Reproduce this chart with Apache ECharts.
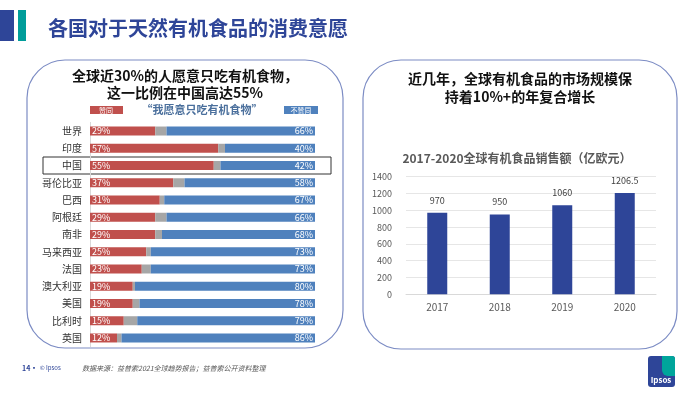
<!DOCTYPE html>
<html><head><meta charset="utf-8">
<script src="https://cdn.jsdelivr.net/npm/echarts@6/dist/echarts.min.js"></script>
<style>html,body{margin:0;padding:0;background:#fff}#c{width:700px;height:394px}</style>
</head><body><div id="c"></div>
<script>
const countries = ['世界','印度','中国','哥伦比亚','巴西','阿根廷','南非','马来西亚','法国','澳大利亚','美国','比利时','英国'];
const agree =    [29,57,55,37,31,29,29,25,23,19,19,15,12];
const neutral =  [5,3,3,5,2,5,3,2,4,1,3,6,2];
const disagree = [66,40,42,58,67,66,68,73,73,80,78,79,86];
const years = ['2017','2018','2019','2020'];
const sales = [970,950,1060,1206.5];
const salesTicks = [0,200,400,600,800,1000,1200,1400];

const F = '"Noto Sans CJK SC", "Noto Sans", sans-serif';
const chart = echarts.init(document.getElementById('c'));
const pct = p => p.value + '%';
chart.setOption({
  animation:false,
  textStyle:{fontFamily:F},
  graphic:[
    {type:'rect',shape:{x:0,y:10,width:14,height:31},style:{fill:'#2e4598'}},
    {type:'rect',shape:{x:18,y:10,width:8,height:31},style:{fill:'#009d9a'}},
    {type:'text',x:48,y:28,style:{text:'各国对于天然有机食品的消费意愿',fill:'#2e4598',font:'bold 20px '+F,textVerticalAlign:'middle'}},
    {type:'rect',shape:{x:27,y:60,width:316,height:288,r:38},style:{fill:'none',stroke:'#7c8cc4',lineWidth:1.2}},
    {type:'rect',shape:{x:363,y:60,width:314,height:289,r:38},style:{fill:'none',stroke:'#7c8cc4',lineWidth:1.2}},
    {type:'text',x:185,y:76,style:{text:'全球近30%的人愿意只吃有机食物，',fill:'#111',font:'bold 14px '+F,textAlign:'center',textVerticalAlign:'middle'}},
    {type:'text',x:185,y:93,style:{text:'这一比例在中国高达55%',fill:'#111',font:'bold 14px '+F,textAlign:'center',textVerticalAlign:'middle'}},
    {type:'rect',shape:{x:90,y:106,width:33,height:8},style:{fill:'#c0504d'}},
    {type:'text',x:106,y:110,style:{text:'赞同',fill:'#fff',font:'7px '+F,textAlign:'center',textVerticalAlign:'middle'}},
    {type:'rect',shape:{x:284,y:106,width:34,height:8},style:{fill:'#4f81bd'}},
    {type:'text',x:301,y:110,style:{text:'不赞同',fill:'#fff',font:'7px '+F,textAlign:'center',textVerticalAlign:'middle'}},
    {type:'text',x:202,y:110,style:{text:'“我愿意只吃有机食物”',fill:'#4a6f9c',font:'bold 11px '+F,textAlign:'center',textVerticalAlign:'middle'}},
    {type:'rect',shape:{x:43,y:157,width:288,height:17},style:{fill:'none',stroke:'#333',lineWidth:1}},
    {type:'text',x:520,y:79,style:{text:'近几年，全球有机食品的市场规模保',fill:'#111',font:'bold 14px '+F,textAlign:'center',textVerticalAlign:'middle'}},
    {type:'text',x:520,y:97,style:{text:'持着10%+的年复合增长',fill:'#111',font:'bold 14px '+F,textAlign:'center',textVerticalAlign:'middle'}},
    {type:'text',x:517,y:158,style:{text:'2017-2020全球有机食品销售额（亿欧元）',fill:'#595959',font:'bold 12px '+F,textAlign:'center',textVerticalAlign:'middle'}},
    {type:'text',x:22,y:368,style:{text:'14',fill:'#2e4598',font:'bold 7px '+F,textVerticalAlign:'middle'}},
    {type:'text',x:31,y:368,style:{text:'▪  © Ipsos',fill:'#2e4598',font:'6px '+F,textVerticalAlign:'middle'}},
    {type:'text',x:82,y:368,style:{text:'数据来源：益普索2021全球趋势报告；益普索公开资料整理',fill:'#555',font:'italic 7px '+F,textVerticalAlign:'middle'}},
    {type:'rect',shape:{x:648,y:356,width:27,height:31,r:3},style:{fill:'#2e4598'}},
    {type:'rect',shape:{x:662,y:356,width:13,height:20,r:[0,3,0,6]},style:{fill:'#00a59b'}},
    {type:'text',x:661,y:380,style:{text:'Ipsos',fill:'#fff',font:'bold 8px '+F,textAlign:'center',textVerticalAlign:'middle'}}
  ],
  grid:[
    {left:90,right:385,top:122.4,height:224.2,containLabel:false},
    {left:406,right:44,top:176.7,height:117.6,containLabel:false}
  ],
  xAxis:[
    {gridIndex:0,type:'value',min:0,max:100,show:false},
    {gridIndex:1,type:'category',data:years,axisLine:{lineStyle:{color:'#d9d9d9'}},axisTick:{show:false},
     axisLabel:{color:'#595959',fontSize:10,margin:8}}
  ],
  yAxis:[
    {gridIndex:0,type:'category',data:countries,inverse:true,axisTick:{show:false},
     axisLine:{show:true,lineStyle:{color:'#d9d9d9'}},axisLabel:{color:'#333',fontSize:10,margin:8}},
    {gridIndex:1,type:'value',min:0,max:1400,interval:200,axisLine:{show:false},axisTick:{show:false},
     splitLine:{lineStyle:{color:'#e6e6e6'}},axisLabel:{color:'#595959',fontSize:9,margin:14,formatter:v=>String(v)}}
  ],
  series:[
    {type:'bar',xAxisIndex:0,yAxisIndex:0,stack:'s',data:agree,barWidth:9,itemStyle:{color:'#c0504d'},
     label:{show:true,position:'insideLeft',formatter:pct,color:'#fff',fontSize:9,offset:[-3,0]}},
    {type:'bar',xAxisIndex:0,yAxisIndex:0,stack:'s',data:neutral,barWidth:9,itemStyle:{color:'#a6a6a6'}},
    {type:'bar',xAxisIndex:0,yAxisIndex:0,stack:'s',data:disagree,barWidth:9,itemStyle:{color:'#4f81bd'},
     label:{show:true,position:'insideRight',formatter:pct,color:'#fff',fontSize:9,offset:[3,0]}},
    {type:'bar',xAxisIndex:1,yAxisIndex:1,data:sales,barWidth:20,itemStyle:{color:'#2e4598'},
     label:{show:true,position:'top',color:'#404040',fontSize:9,distance:8}}
  ]
});
</script></body></html>
